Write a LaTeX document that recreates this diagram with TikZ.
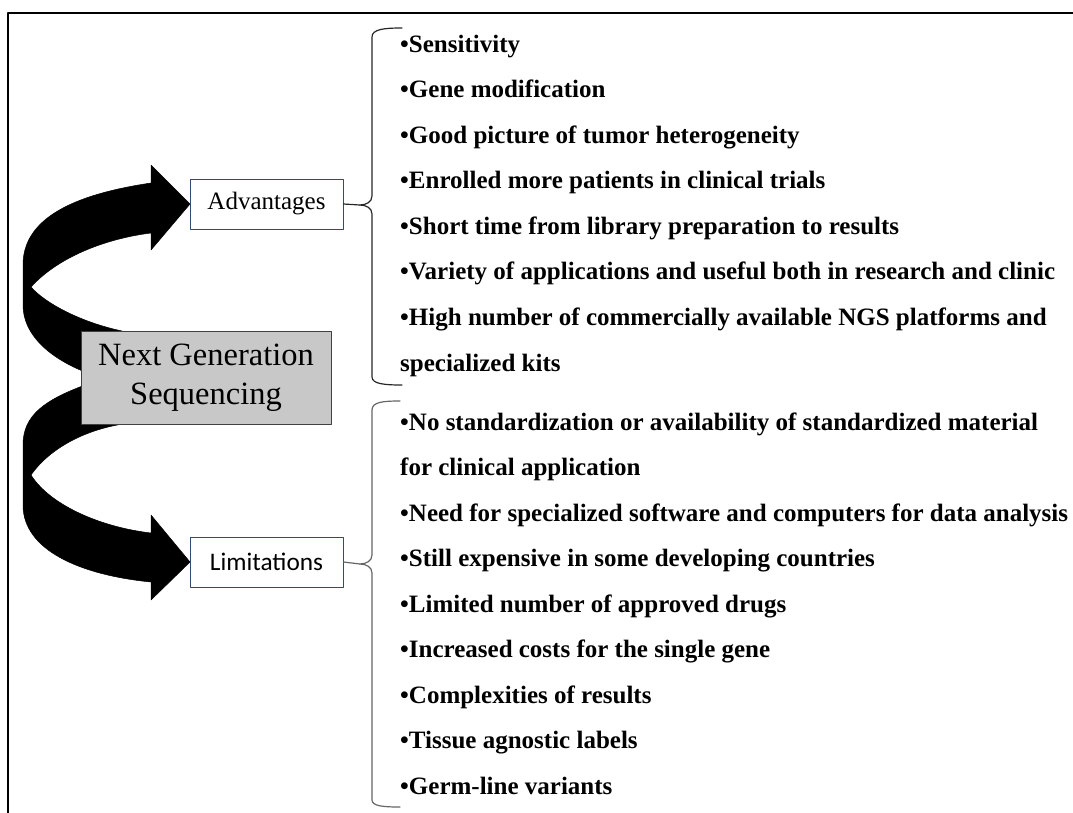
\documentclass[tikz,border=0pt]{standalone}
\usepackage{fontspec}
\setmainfont{Liberation Serif}
\newfontfamily\calibri{Carlito}
\usetikzlibrary{positioning}

\definecolor{boxblue}{RGB}{50,75,115}
\definecolor{ngsgray}{RGB}{200,200,200}

\tikzset{
  labelbox/.style={draw=boxblue,line width=1pt,fill=white,minimum width=153pt,minimum height=50pt,inner sep=0pt,font=\fontsize{25}{28}\selectfont},
  item/.style={anchor=base west,inner sep=0pt,font=\fontsize{25}{28}\selectfont\bfseries},
  bigarrow/.style={fill=black,draw=black,line width=0.5pt},
  bracket/.style={line width=1.2pt,line cap=round}
}

\begin{document}
\begin{tikzpicture}[x=1pt,y=-1pt,line join=round]
        \useasboundingbox (0,0) rectangle (1073,812);
        \clip (0,0) rectangle (1073,812);
        \draw [line width=1.3pt] (8,13) rectangle (1090,830);
        % curved arrows, drawn before the box so it hides their ends
        \filldraw [bigarrow] (151,183) .. controls (70,195) and (23,220) .. (23,265) -- (23,305) .. controls (23,335) and (50,358) .. (85,372) -- (125,340) -- (122,331) .. controls (80,322) and (45,303) .. (31,287) .. controls (60,255) and (110,238) .. (151,233) -- (151,250) -- (190,204) -- (151,165) -- cycle;
        \filldraw [bigarrow] (85,385) .. controls (45,400) and (23,415) .. (23,445) -- (23,505) .. controls (23,550) and (80,575) .. (151,582) -- (151,600) -- (190,562) -- (151,515) -- (151,533) .. controls (100,527) and (50,505) .. (31,475) .. controls (50,448) and (85,430) .. (123,424) -- (125,410) -- cycle;
        \node [draw=black!75,fill=ngsgray,line width=1pt,minimum width=250pt,minimum height=93pt,align=center,font=\fontsize{32.5}{39}\selectfont] (ngs) at (206,377.5) {Next Generation\\Sequencing};
        \node [labelbox] (adv) at (266.5,204) {Advantages};
        \node [labelbox,font=\calibri\fontsize{25.3}{28}\selectfont] (lim) at (266.5,562) {Limitations};
        % braces
        \coordinate (advtip) at (360,205);
        \coordinate (limtip) at (360,564);
        \draw [bracket,black!85] (adv.east) -- (advtip);
        \draw [bracket,black!85] (402,28) .. controls (385,28) and (372,29) .. (372,37) -- (372,196) .. controls (372,202) and (366,205) .. (advtip) .. controls (366,205) and (372,208) .. (372,214) -- (372,377) .. controls (372,384) and (385,385) .. (402,385);
        \draw [bracket,black!60] (lim.east) -- (limtip);
        \draw [bracket,black!60] (400,401) .. controls (383,401) and (372,402) .. (372,410) -- (372,555) .. controls (372,561) and (366,564) .. (limtip) .. controls (366,564) and (372,567) .. (372,573) -- (372,800) .. controls (372,806) and (383,807) .. (400,807);
        % advantages
        \foreach \t [count=\i] in {Sensitivity,Gene modification,Good picture of tumor heterogeneity,Enrolled more patients in clinical trials,Short time from library preparation to results,Variety of applications and useful both in research and clinic,High number of commercially available NGS platforms and}
            \node [item] (adv\i) at (400,{52+45.5*(\i-1)}) {•\t};
        \node [item] (adv8) at (400,371) {specialized kits};
        % limitations
        \node [item] (lim1) at (400,430) {•No standardization or availability of standardized material};
        \node [item] (lim2) at (400,475.5) {for clinical application};
        \foreach \t [count=\i from 3] in {Need for specialized software and computers for data analysis,Still expensive in some developing countries,Limited number of approved drugs,Increased costs for the single gene,Complexities of results,Tissue agnostic labels,Germ-line variants}
            \node [item] (lim\i) at (400,{430+45.5*(\i-1)}) {•\t};
\end{tikzpicture}
\end{document}
